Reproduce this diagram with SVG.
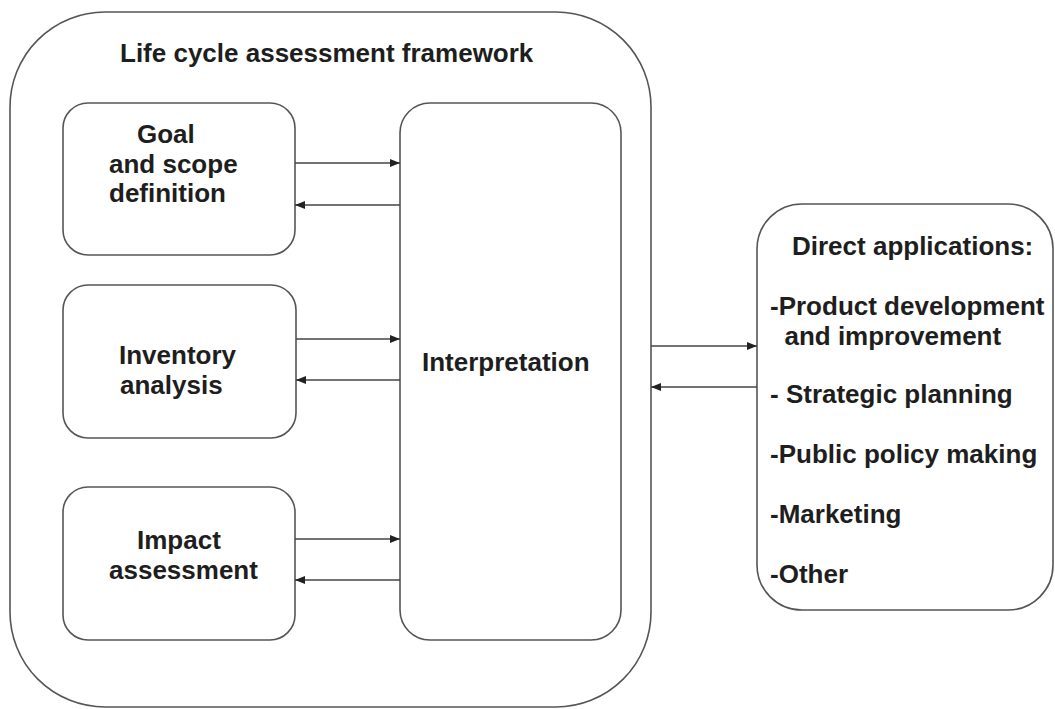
<svg xmlns="http://www.w3.org/2000/svg" width="1055" height="709" viewBox="0 0 1055 709">
<style>
.box{fill:#fff;stroke:#555;stroke-width:1.6}
.lbl{font-family:"Liberation Sans",Arial,sans-serif;font-weight:bold;font-size:26px;fill:#1e1e1e}
.con{stroke:#444;stroke-width:1.5;fill:none}
</style>
<defs>
<marker id="ah" markerUnits="userSpaceOnUse" markerWidth="11" markerHeight="9" refX="10" refY="4" orient="auto">
<path d="M0,0 L10,4 L0,8 z" fill="#222"/>
</marker>
</defs>
<rect width="1055" height="709" fill="#fff"/>
<g id="framework">
<rect class="box" x="10" y="12" width="641" height="695" rx="95" ry="95"/>
<text class="lbl" x="120" y="62">Life cycle assessment framework</text>
</g>
<g id="goal">
<rect class="box" x="63" y="103" width="232" height="152" rx="25" ry="25"/>
<text class="lbl" x="137" y="143">Goal</text>
<text class="lbl" x="109" y="173">and scope</text>
<text class="lbl" x="109" y="202">definition</text>
</g>
<g id="inventory">
<rect class="box" x="63" y="285" width="233" height="153" rx="25" ry="25"/>
<text class="lbl" x="119" y="364">Inventory</text>
<text class="lbl" x="120" y="394">analysis</text>
</g>
<g id="impact">
<rect class="box" x="63" y="487" width="232" height="153" rx="25" ry="25"/>
<text class="lbl" x="137" y="549">Impact</text>
<text class="lbl" x="109" y="579">assessment</text>
</g>
<g id="interpretation">
<rect class="box" x="400" y="103" width="221" height="537" rx="30" ry="30"/>
<text class="lbl" x="422" y="371">Interpretation</text>
</g>
<g id="applications">
<rect class="box" x="757" y="204" width="296" height="406" rx="45" ry="45"/>
<text class="lbl" x="792" y="255">Direct applications:</text>
<text class="lbl" x="770" y="315">-Product development</text>
<text class="lbl" x="770" y="345" xml:space="preserve">  and improvement</text>
<text class="lbl" x="770" y="403">- Strategic planning</text>
<text class="lbl" x="770" y="463">-Public policy making</text>
<text class="lbl" x="770" y="523">-Marketing</text>
<text class="lbl" x="770" y="583">-Other</text>
</g>
<g id="connectors">
<line class="con" x1="295" y1="163" x2="400" y2="163" marker-end="url(#ah)"/>
<line class="con" x1="400" y1="205" x2="295" y2="205" marker-end="url(#ah)"/>
<line class="con" x1="296" y1="339" x2="400" y2="339" marker-end="url(#ah)"/>
<line class="con" x1="400" y1="380" x2="296" y2="380" marker-end="url(#ah)"/>
<line class="con" x1="295" y1="539" x2="400" y2="539" marker-end="url(#ah)"/>
<line class="con" x1="400" y1="580" x2="295" y2="580" marker-end="url(#ah)"/>
<line class="con" x1="651" y1="346" x2="757" y2="346" marker-end="url(#ah)"/>
<line class="con" x1="757" y1="387" x2="651" y2="387" marker-end="url(#ah)"/>
</g>
</svg>
